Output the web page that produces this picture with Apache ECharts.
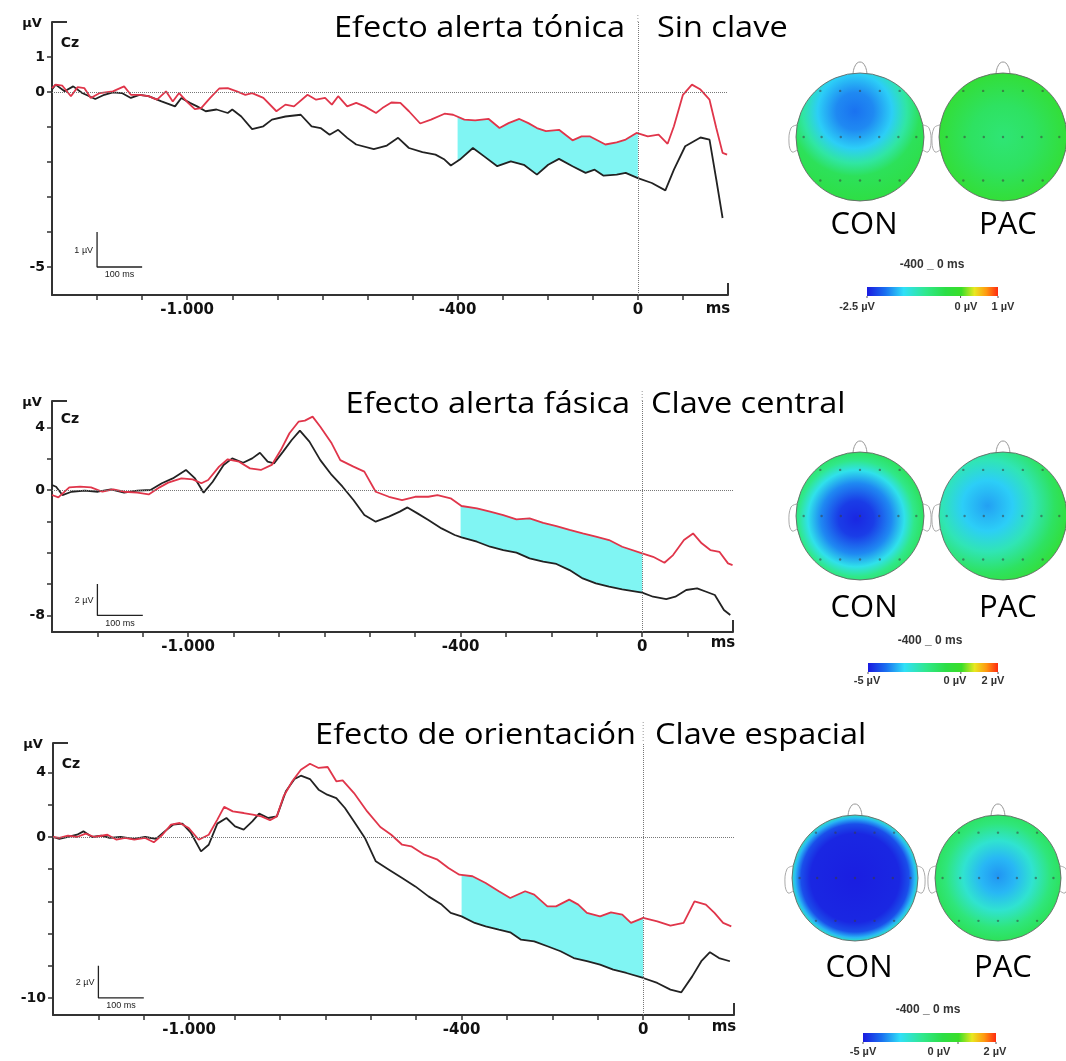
<!DOCTYPE html>
<html><head><meta charset="utf-8">
<script src="https://cdn.jsdelivr.net/npm/echarts@6/dist/echarts.min.js"></script>
<style>html,body{margin:0;padding:0;background:#fff}#c{width:1066px;height:1061px}</style>
</head><body><div id="c"></div><script>
// ---------------- DATA ----------------
// time (ms) / amplitude (µV) pairs
const p1Red = [[-1300,0.11],[-1292,0.21],[-1277,0.18],[-1258,-0.12],[-1243,0.14],[-1228,0.11],[-1214,-0.17],[-1194,-0.03],[-1165,0.02],[-1140,0.16],[-1125,-0.08],[-1106,-0.08],[-1086,-0.12],[-1067,-0.22],[-1047,0.02],[-1032,-0.27],[-1018,-0.03],[-998,-0.31],[-983,-0.49],[-969,-0.46],[-949,-0.17],[-929,0.10],[-910,0.11],[-890,0.02],[-871,-0.08],[-856,-0.03],[-831,-0.17],[-802,-0.55],[-782,-0.36],[-763,-0.41],[-733,-0.08],[-714,-0.22],[-694,-0.17],[-679,-0.36],[-665,-0.12],[-645,-0.41],[-625,-0.31],[-606,-0.41],[-581,-0.60],[-567,-0.46],[-547,-0.30],[-527,-0.31],[-508,-0.55],[-483,-0.90],[-459,-0.79],[-429,-0.62],[-410,-0.65],[-385,-0.79],[-361,-0.81],[-331,-0.77],[-307,-1.03],[-287,-0.89],[-263,-0.77],[-243,-0.89],[-224,-1.03],[-204,-1.12],[-175,-1.08],[-145,-1.38],[-125,-1.27],[-106,-1.27],[-72,-1.50],[-47,-1.44],[-27,-1.36],[-3,-1.17],[22,-1.27],[46,-1.22],[66,-1.48],[80,-0.98],[100,-0.08],[120,0.21],[139,0.07],[159,-0.22],[174,-1.03],[188,-1.74],[198,-1.79]];
const p1Black = [[-1300,0.07],[-1292,0.21],[-1272,0.02],[-1253,0.16],[-1233,-0.03],[-1204,-0.20],[-1184,-0.08],[-1165,-0.01],[-1145,-0.03],[-1125,-0.17],[-1106,-0.08],[-1086,-0.12],[-1057,-0.27],[-1027,-0.41],[-1013,-0.17],[-994,-0.31],[-978,-0.41],[-959,-0.55],[-935,-0.50],[-910,-0.60],[-900,-0.50],[-880,-0.70],[-856,-1.06],[-831,-0.98],[-812,-0.79],[-782,-0.70],[-748,-0.65],[-724,-0.98],[-704,-1.03],[-684,-1.22],[-665,-1.08],[-645,-1.31],[-625,-1.50],[-586,-1.63],[-557,-1.53],[-532,-1.31],[-508,-1.60],[-478,-1.72],[-449,-1.79],[-429,-1.93],[-415,-2.10],[-395,-1.93],[-366,-1.60],[-341,-1.84],[-312,-2.12],[-282,-1.98],[-253,-2.08],[-224,-2.36],[-199,-2.08],[-175,-1.91],[-145,-2.12],[-116,-2.31],[-96,-2.22],[-76,-2.39],[-47,-2.36],[-27,-2.31],[0,-2.46],[31,-2.60],[61,-2.81],[80,-2.22],[105,-1.55],[139,-1.30],[159,-1.36],[174,-2.50],[188,-3.60]];

const p2Red = [[-1300,-0.32],[-1286,-0.47],[-1262,0.17],[-1238,0.21],[-1214,0.17],[-1189,-0.11],[-1165,0.04],[-1141,-0.11],[-1112,-0.17],[-1087,-0.28],[-1063,0.17],[-1044,0.47],[-1015,0.74],[-990,0.68],[-971,0.43],[-956,0.64],[-932,1.49],[-913,1.96],[-888,1.81],[-864,1.38],[-840,1.28],[-816,1.60],[-796,2.55],[-777,3.62],[-757,4.36],[-743,4.43],[-726,4.68],[-709,4.04],[-684,2.98],[-665,1.91],[-636,1.49],[-612,1.17],[-587,-0.11],[-558,-0.43],[-529,-0.64],[-500,-0.43],[-471,-0.43],[-451,-0.32],[-422,-0.53],[-398,-1.02],[-364,-1.17],[-335,-1.38],[-306,-1.60],[-277,-1.87],[-248,-1.81],[-218,-2.09],[-189,-2.30],[-160,-2.55],[-131,-2.77],[-102,-2.98],[-73,-3.19],[-44,-3.62],[0,-4.04],[24,-4.26],[49,-4.64],[68,-4.15],[92,-3.19],[112,-2.77],[131,-3.40],[150,-3.83],[170,-3.94],[189,-4.68],[199,-4.79]];
const p2Black = [[-1300,0.32],[-1291,0.21],[-1277,-0.32],[-1257,-0.11],[-1228,-0.04],[-1199,-0.11],[-1170,0.04],[-1141,-0.17],[-1112,-0.04],[-1083,0.00],[-1058,0.43],[-1034,0.74],[-1005,1.28],[-985,0.74],[-966,-0.17],[-946,0.53],[-922,1.60],[-903,2.02],[-879,1.74],[-859,2.02],[-842,2.38],[-825,1.81],[-811,1.70],[-791,2.45],[-772,3.19],[-754,3.79],[-733,3.09],[-709,1.91],[-684,0.96],[-660,0.21],[-636,-0.64],[-612,-1.60],[-587,-2.02],[-558,-1.70],[-534,-1.38],[-517,-1.11],[-495,-1.49],[-471,-1.91],[-442,-2.45],[-413,-2.87],[-398,-3.02],[-364,-3.30],[-335,-3.62],[-306,-3.83],[-277,-4.00],[-248,-4.36],[-218,-4.57],[-189,-4.72],[-160,-5.11],[-131,-5.64],[-102,-5.96],[-73,-6.17],[-44,-6.34],[0,-6.55],[24,-6.81],[53,-6.96],[73,-6.81],[97,-6.38],[121,-6.28],[141,-6.49],[160,-6.70],[180,-7.66],[194,-7.98]];

const p3Red = [[-1300,0.00],[-1286,-0.06],[-1267,0.08],[-1247,0.00],[-1228,0.21],[-1209,0.00],[-1180,0.14],[-1160,-0.17],[-1141,-0.06],[-1121,-0.17],[-1097,-0.06],[-1078,-0.33],[-1059,0.14],[-1040,0.77],[-1021,0.87],[-1001,0.56],[-979,-0.17],[-957,0.14],[-938,1.08],[-923,1.87],[-904,1.59],[-880,1.49],[-860,1.39],[-841,1.28],[-822,1.04],[-807,1.28],[-792,2.53],[-773,3.46],[-754,4.18],[-734,4.55],[-715,4.29],[-695,4.35],[-676,3.46],[-662,3.52],[-637,2.73],[-608,1.59],[-579,0.62],[-555,0.14],[-531,-0.48],[-511,-0.58],[-482,-1.10],[-453,-1.41],[-429,-1.93],[-405,-2.34],[-376,-2.44],[-347,-2.86],[-318,-3.37],[-293,-3.79],[-260,-3.37],[-240,-3.58],[-211,-4.31],[-192,-4.31],[-163,-3.89],[-143,-4.20],[-124,-4.72],[-95,-4.93],[-71,-4.68],[-46,-4.82],[-27,-5.34],[0,-5.03],[31,-5.24],[60,-5.51],[89,-5.34],[113,-4.00],[138,-4.20],[157,-4.72],[176,-5.34],[194,-5.55]];
const p3Black = [[-1300,0.00],[-1286,-0.12],[-1267,0.00],[-1247,0.14],[-1233,0.35],[-1214,0.00],[-1194,0.08],[-1175,-0.06],[-1151,0.00],[-1122,-0.12],[-1097,0.00],[-1073,-0.12],[-1054,0.35],[-1035,0.77],[-1015,0.83],[-996,0.25],[-974,-0.89],[-957,-0.48],[-938,0.83],[-918,1.18],[-899,0.66],[-880,0.46],[-861,0.97],[-846,1.45],[-826,1.18],[-807,1.28],[-787,2.84],[-768,3.60],[-754,3.81],[-734,3.60],[-715,2.94],[-696,2.63],[-676,2.42],[-657,1.80],[-637,0.97],[-613,-0.06],[-589,-1.51],[-560,-2.03],[-531,-2.55],[-502,-3.07],[-473,-3.69],[-444,-4.20],[-424,-4.72],[-400,-4.93],[-371,-5.34],[-347,-5.55],[-318,-5.76],[-293,-5.92],[-269,-6.38],[-240,-6.48],[-211,-6.79],[-182,-7.10],[-153,-7.52],[-124,-7.72],[-95,-7.93],[-66,-8.24],[-37,-8.45],[0,-8.76],[31,-9.07],[60,-9.48],[84,-9.65],[108,-8.66],[128,-7.72],[147,-7.16],[167,-7.52],[191,-7.72]];

// shaded window (ms)
const shadeWindow = [-400, 0];
// axis ticks / labels
const xTickVals = [-1200,-1100,-1000,-900,-800,-700,-600,-500,-400,-300,-200,-100,0,100];
const xLabelVals = [-1000,-400,0];
const yTicks1 = [1,0,-1,-2,-3,-4,-5], yLabels1 = [1,0,-5];
const yTicks2 = [4,2,0,-2,-4,-6,-8], yLabels2 = [4,0,-8];
const yTicks3 = [4,2,0,-2,-4,-6,-8,-10], yLabels3 = [4,0,-10];
// calibration bars [ms, µV]
const scaleBar1 = [[-1200,-4],[-1200,-5],[-1100,-5]];
const scaleBar2 = [[-1200,-6],[-1200,-8],[-1100,-8]];
const scaleBar3 = [[-1200,-8],[-1200,-10],[-1100,-10]];
// titles
const titlesLeft = ['Efecto alerta tónica','Efecto alerta fásica','Efecto de orientación'];
const titlesRight = ['Sin clave','Clave central','Clave espacial'];
const scaleBarLabels = ['1 µV','2 µV','2 µV'];
// topographic maps: radial profile [fraction of radius, µV]
const topoCON1 = [[0,-2.0],[0.2,-1.9],[0.4,-1.6],[0.56,-1.05],[0.7,-0.55],[1,-0.35]];
const topoPAC1 = [[0,-0.75],[0.5,-0.6],[1,-0.2]];
const topoCON2 = [[0,-4.85],[0.25,-4.6],[0.5,-3.8],[0.68,-2.9],[0.82,-1.8],[1,-1.0]];
const topoPAC2 = [[0,-3.6],[0.3,-3.2],[0.55,-2.3],[0.8,-1.2],[1,-0.4]];
const topoCON3 = [[0,-4.95],[0.7,-4.85],[0.85,-4.4],[0.94,-3.4],[1,-2.4]];
const topoPAC3 = [[0,-3.7],[0.25,-3.4],[0.5,-2.6],[0.75,-1.6],[1,-0.9]];
const colorRanges = [[-2.5,1],[-5,2],[-5,2]];
const colorBarLabels = [['-2.5 µV','0 µV','1 µV'],['-5 µV','0 µV','2 µV'],['-5 µV','0 µV','2 µV']];
const windowLabel = '-400 _ 0 ms';

// ---------------- LAYOUT / STYLE ----------------
const grids = [
  {left:52, top:22, width:676, height:273, yMin:-5.8, yMax:2.0},
  {left:52, top:401, width:681, height:231, yMin:-9.06, yMax:5.68},
  {left:53, top:743, width:681, height:272, yMin:-11.06, yMax:5.84}
];
const panelsData = [
  {red:p1Red, black:p1Black, bar:scaleBar1, yt:yTicks1, yl:yLabels1},
  {red:p2Red, black:p2Black, bar:scaleBar2, yt:yTicks2, yl:yLabels2},
  {red:p3Red, black:p3Black, bar:scaleBar3, yt:yTicks3, yl:yLabels3}
];
const titlePos = [
  {rx:625, lx:657, y:29}, {rx:630, lx:651, y:405}, {rx:636, lx:655, y:736}
];
const topoPos = [
  {con:[860,137], pac:[1003,137], r:64, conF:[0.46,0.30,0.72], pacF:[0.5,0.5,0.5],
   lab:225, win:[932,265], cb:[867,287,131,9], cbl:[[857,307],[966,307],[1003,307]]},
  {con:[860,516], pac:[1003,516], r:64, conF:[0.47,0.52,0.55], pacF:[0.38,0.42,0.65],
   lab:608, win:[930,641], cb:[868,663,130,9], cbl:[[867,681],[955,681],[993,681]]},
  {con:[855,878], pac:[998,878], r:63, conF:[0.5,0.5,0.5], pacF:[0.5,0.48,0.55],
   lab:968, win:[928,1010], cb:[863,1033,133,9], cbl:[[863,1052],[939,1052],[995,1052]]}
];
const topoProfiles = [[topoCON1,topoPAC1],[topoCON2,topoPAC2],[topoCON3,topoPAC3]];
const cmapStops = [[0,[26,26,224]],[0.14,[26,112,240]],[0.28,[48,224,248]],[0.45,[48,232,140]],[0.6,[44,222,70]],[0.72,[58,222,40]],[0.82,[232,232,32]],[0.91,[255,154,16]],[1,[255,42,16]]];
const RED = '#e0354a', BLACK = '#222', CYAN = '#80f5f3';
const labelFont = 'DejaVu Sans';

function cmap(p){
  p = Math.max(0, Math.min(1, p));
  for (let k=0;k<cmapStops.length-1;k++){
    const a=cmapStops[k], b=cmapStops[k+1];
    if (p>=a[0] && p<=b[0]){
      const f=(p-a[0])/(b[0]-a[0]);
      const c=a[1].map((v,i)=>Math.round(v+(b[1][i]-v)*f));
      return 'rgb('+c.join(',')+')';
    }
  }
  return 'rgb(255,42,16)';
}
function interp(arr, t){
  for (let k=0;k<arr.length-1;k++){
    const a=arr[k], b=arr[k+1];
    if (t>=a[0] && t<=b[0]) return a[1]+(b[1]-a[1])*(t-a[0])/(b[0]-a[0]);
  }
  return arr[arr.length-1][1];
}
function fillRender(red, black){
  const t0=shadeWindow[0], t1=shadeWindow[1];
  return function(params, api){
    const top=[[t0,interp(red,t0)]].concat(red.filter(p=>p[0]>t0&&p[0]<t1), [[t1,interp(red,t1)]]);
    const bot=[[t0,interp(black,t0)]].concat(black.filter(p=>p[0]>t0&&p[0]<t1), [[t1,interp(black,t1)]]).reverse();
    const pts=top.concat(bot).map(p=>api.coord(p));
    return {type:'polygon', shape:{points:pts}, style:{fill:CYAN}};
  };
}
function chartPx(i, p){
  const g=grids[i];
  return [g.left + (p[0]+1300)/1500*g.width, g.top + (g.yMax-p[1])/(g.yMax-g.yMin)*g.height];
}
function chartXpx(i, t){ const g=grids[i]; return g.left+(t+1300)/1500*g.width; }

const option = {animation:false, backgroundColor:'#fff', grid:[], xAxis:[], yAxis:[], series:[], graphic:[]};

grids.forEach((g,i)=>{
  const pd = panelsData[i];
  option.grid.push({left:g.left, top:g.top, width:g.width, height:g.height, containLabel:false});
  option.xAxis.push({type:'value', gridIndex:i, min:-1300, max:200,
    axisLine:{show:true, onZero:false, lineStyle:{color:'#333', width:2}},
    axisTick:{show:true, customValues:xTickVals, length:5, lineStyle:{color:'#333', width:1.5}},
    axisLabel:{show:true, customValues:xLabelVals, margin:8, fontFamily:labelFont, fontWeight:'bold', fontSize:15, color:'#111',
      formatter:v=> v===-1000 ? '-1.000' : String(v)},
    splitLine:{show:false}});
  option.yAxis.push({type:'value', gridIndex:i, min:g.yMin, max:g.yMax,
    axisLine:{show:true, onZero:false, lineStyle:{color:'#333', width:2}},
    axisTick:{show:true, customValues:pd.yt, length:5, lineStyle:{color:'#333', width:1.5}},
    axisLabel:{show:true, customValues:pd.yl, margin:7, fontFamily:labelFont, fontWeight:'bold', fontSize:14, color:'#111'},
    splitLine:{show:false}});
  option.series.push({type:'custom', xAxisIndex:i, yAxisIndex:i, data:[[shadeWindow[0],0]], renderItem:fillRender(pd.red, pd.black), z:1, silent:true});
  option.series.push({type:'line', xAxisIndex:i, yAxisIndex:i, data:pd.black, showSymbol:false, symbol:'none',
    lineStyle:{color:BLACK, width:1.8}, z:3, silent:true});
  option.series.push({type:'line', xAxisIndex:i, yAxisIndex:i, data:pd.red, showSymbol:false, symbol:'none',
    lineStyle:{color:RED, width:1.8}, z:4, silent:true,
    markLine:{silent:true, symbol:['none','none'], label:{show:false}, animation:false,
      lineStyle:{type:'dotted', color:'#777', width:1}, data:[{yAxis:0},{xAxis:0}]}});
  option.series.push({type:'line', xAxisIndex:i, yAxisIndex:i, data:pd.bar, showSymbol:false, symbol:'none',
    lineStyle:{color:'#222', width:1.3}, z:3, silent:true});

  // axis decorations
  const gx=g.left, gy=g.top, gr=g.left+g.width, gb=g.top+g.height;
  option.graphic.push({type:'line', shape:{x1:gx, y1:gy, x2:gx+15, y2:gy}, style:{stroke:'#333', lineWidth:2}});
  option.graphic.push({type:'line', shape:{x1:gr, y1:gb, x2:gr, y2:gb-12}, style:{stroke:'#333', lineWidth:2}});
  option.graphic.push({type:'text', x:gx-20, y:gy+2, style:{text:'µV', font:'bold 13px "DejaVu Sans"', fill:'#111', align:'center', verticalAlign:'middle'}});
  option.graphic.push({type:'text', x:gx+18, y:gy+(i===0?21:i===1?18:21), style:{text:'Cz', font:'bold 14px "DejaVu Sans"', fill:'#111', align:'center', verticalAlign:'middle'}});
  option.graphic.push({type:'text', x:gr-10, y:gb+(i===0?14:i===1?11:12), style:{text:'ms', font:'bold 15px "DejaVu Sans"', fill:'#111', align:'center', verticalAlign:'middle'}});
  // calibration labels
  const barTop = chartPx(i, pd.bar[0]), barBot = chartPx(i, pd.bar[1]), barEnd = chartPx(i, pd.bar[2]);
  option.graphic.push({type:'text', x:barTop[0]-4, y:(barTop[1]+barBot[1])/2+1, style:{text:scaleBarLabels[i], font:'9px "Liberation Sans"', fill:'#222', align:'right', verticalAlign:'middle'}});
  option.graphic.push({type:'text', x:(barBot[0]+barEnd[0])/2, y:barBot[1]+8, style:{text:'100 ms', font:'9px "Liberation Sans"', fill:'#222', align:'center', verticalAlign:'middle'}});
  // titles
  const tp = titlePos[i];
  option.graphic.push({type:'text', x:tp.rx, y:tp.y, scaleX:1.12, style:{text:titlesLeft[i], font:'29px "Open Sans"', fill:'#000', align:'right', verticalAlign:'middle'}});
  option.graphic.push({type:'text', x:tp.lx, y:tp.y, scaleX:1.12, style:{text:titlesRight[i], font:'29px "Open Sans"', fill:'#000', align:'left', verticalAlign:'middle'}});
  option.graphic.push({type:'line', shape:{x1:chartXpx(i,0), y1:tp.y-14, x2:chartXpx(i,0), y2:gy}, style:{stroke:'#999', lineWidth:1, lineDash:[1,2]}});
});

// topographic maps
const dotRows = [[-0.72,[-0.62,-0.31,0,0.31,0.62]],[0,[-0.88,-0.6,-0.3,0,0.3,0.6,0.88]],[0.68,[-0.62,-0.31,0,0.31,0.62]]];
function addHead(c, r, profile, focus, range){
  const [cx,cy]=c;
  const stops = profile.map(([f,v])=>({offset:f, color:cmap((v-range[0])/(range[1]-range[0]))}));
  option.graphic.push({type:'polyline', shape:{points:[[cx-7,cy-r+2],[cx-5,cy-r-7],[cx,cy-r-11],[cx+5,cy-r-7],[cx+7,cy-r+2]], smooth:0.5}, style:{stroke:'#999', lineWidth:1, fill:null}});
  [-1,1].forEach(s=>{
    option.graphic.push({type:'polyline', shape:{points:[[cx+s*(r-1),cy-12],[cx+s*(r+5),cy-9],[cx+s*(r+7),cy+6],[cx+s*(r+4),cy+15],[cx+s*(r-1),cy+13]], smooth:0.4}, style:{stroke:'#aaa', lineWidth:1, fill:null}});
  });
  option.graphic.push({type:'circle', shape:{cx:cx, cy:cy, r:r}, style:{fill:{type:'radial', x:focus[0], y:focus[1], r:focus[2], colorStops:stops}, stroke:'#666', lineWidth:0.9}});
  dotRows.forEach(([dy,xs])=>xs.forEach(dx=>{
    option.graphic.push({type:'circle', shape:{cx:cx+dx*r, cy:cy+dy*r, r:1.2}, style:{fill:'rgba(60,60,60,0.55)'}});
  }));
}
topoPos.forEach((tp,i)=>{
  addHead(tp.con, tp.r, topoProfiles[i][0], tp.conF, colorRanges[i]);
  addHead(tp.pac, tp.r, topoProfiles[i][1], tp.pacF, colorRanges[i]);
  option.graphic.push({type:'text', x:tp.con[0]+4, y:tp.lab, style:{text:'CON', font:'31px "Open Sans"', fill:'#000', align:'center', verticalAlign:'middle'}});
  option.graphic.push({type:'text', x:tp.pac[0]+5, y:tp.lab, style:{text:'PAC', font:'31px "Open Sans"', fill:'#000', align:'center', verticalAlign:'middle'}});
  option.graphic.push({type:'text', x:tp.win[0], y:tp.win[1], style:{text:windowLabel, font:'bold 12px "Liberation Sans"', fill:'#333', align:'center', verticalAlign:'middle'}});
  const [bx,by,bw,bh]=tp.cb;
  option.graphic.push({type:'rect', shape:{x:bx, y:by, width:bw, height:bh},
    style:{fill:{type:'linear', x:0, y:0, x2:1, y2:0, colorStops:cmapStops.map(s=>({offset:s[0], color:'rgb('+s[1].join(',')+')'}))}}});
  const zeroX = bx + bw*(0-colorRanges[i][0])/(colorRanges[i][1]-colorRanges[i][0]);
  [bx, zeroX, bx+bw].forEach(x=>option.graphic.push({type:'line', shape:{x1:x, y1:by+bh, x2:x, y2:by+bh+2}, style:{stroke:'#555', lineWidth:1}}));
  colorBarLabels[i].forEach((t,k)=>{
    option.graphic.push({type:'text', x:tp.cbl[k][0], y:tp.cbl[k][1], style:{text:t, font:'bold 11px "Liberation Sans"', fill:'#333', align:'center', verticalAlign:'middle'}});
  });
});

const chart = echarts.init(document.getElementById('c'), null, {renderer:'canvas'});
chart.setOption(option);
</script></body></html>
